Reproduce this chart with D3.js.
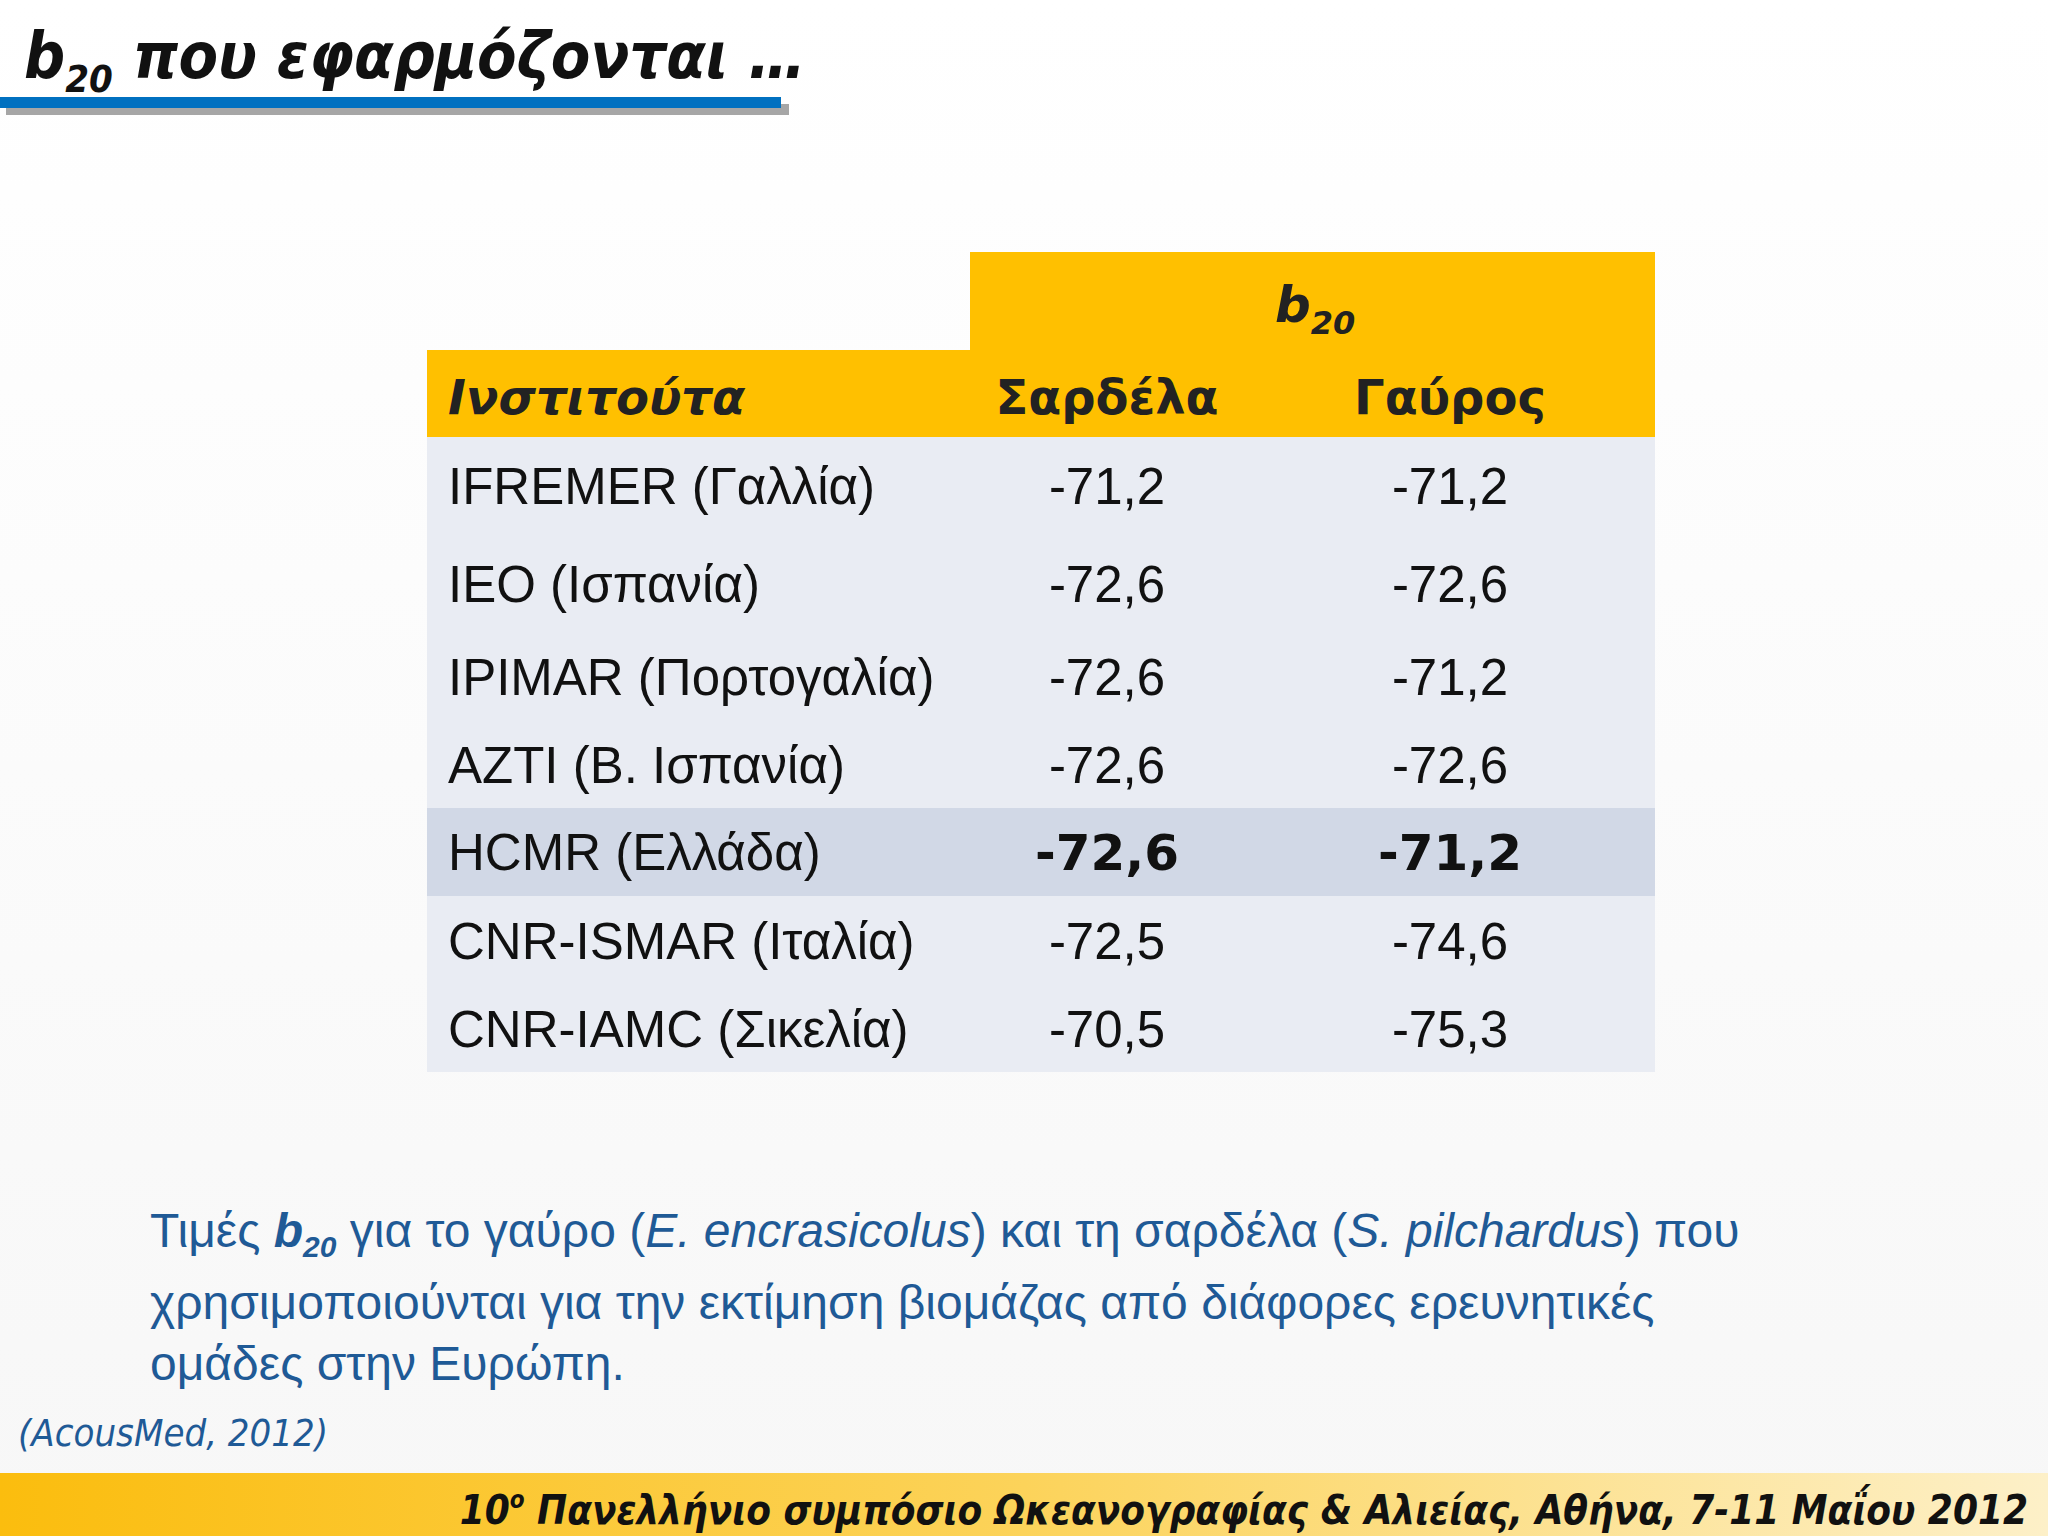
<!DOCTYPE html>
<html><head><meta charset="utf-8">
<script src="https://cdn.jsdelivr.net/npm/d3@7"></script>
<style>body{margin:0;background:#fff}</style></head>
<body><svg id="c" width="2048" height="1536"></svg>
<script>
const institutes = ["IFREMER (Γαλλία)","IEO (Ισπανία)","IPIMAR (Πορτογαλία)","AZTI (Β. Ισπανία)","HCMR (Ελλάδα)","CNR-ISMAR (Ιταλία)","CNR-IAMC (Σικελία)"];
const sardine = ["-71,2","-72,6","-72,6","-72,6","-72,6","-72,5","-70,5"];
const anchovy = ["-71,2","-72,6","-71,2","-72,6","-71,2","-74,6","-75,3"];
const headers = ["Ινστιτούτα","Σαρδέλα","Γαύρος"];
const highlight = "HCMR (Ελλάδα)";

const svg = d3.select("#c");
const defs = svg.append("defs");
const bg = defs.append("linearGradient").attr("id","bg").attr("x1",0).attr("y1",0).attr("x2",0).attr("y2",1);
bg.append("stop").attr("offset",0).attr("stop-color","#ffffff");
bg.append("stop").attr("offset",1).attr("stop-color","#f7f7f7");
const fg = defs.append("linearGradient").attr("id","ft");
fg.append("stop").attr("offset",0).attr("stop-color","#fbbd0e");
fg.append("stop").attr("offset",0.5).attr("stop-color","#fcd35a");
fg.append("stop").attr("offset",1).attr("stop-color","#fdf0c8");
svg.append("rect").attr("width",2048).attr("height",1536).attr("fill","url(#bg)");

// title
svg.append("rect").attr("x",6).attr("y",104).attr("width",783).attr("height",11).attr("fill","#a6a6a6");
svg.append("rect").attr("x",0).attr("y",97).attr("width",781).attr("height",11).attr("fill","#0070c0");
const t = svg.append("text").attr("x",24).attr("y",78).attr("font-family","DejaVu Sans Condensed, DejaVu Sans").attr("font-style","italic").attr("font-weight","bold").attr("font-size",64).attr("fill","#111");
t.append("tspan").text("b");
t.append("tspan").attr("font-size",38).attr("dy",14).text("20");
t.append("tspan").attr("dy",-14).text(" που εφαρμόζονται …");

// table
const x = d3.scaleOrdinal().domain(headers).range([448,1107,1450]);
const bounds = [437,535,633,721,808,896,985,1072];
const y = d3.scaleOrdinal().domain(institutes).range(bounds.slice(0,-1));
svg.append("rect").attr("x",970).attr("y",252).attr("width",685).attr("height",100).attr("fill","#ffc000");
svg.append("rect").attr("x",427).attr("y",350).attr("width",1228).attr("height",87).attr("fill","#ffc000");
const bt = svg.append("text").attr("x",1275).attr("y",322).attr("font-family","DejaVu Sans").attr("font-style","italic").attr("font-weight","bold").attr("font-size",50).attr("fill","#222");
bt.append("tspan").text("b"); bt.append("tspan").attr("font-size",32).attr("dy",12).text("20");
headers.forEach((h,i)=>svg.append("text").attr("x",x(h)).attr("y",414).attr("text-anchor",i?"middle":"start")
  .attr("font-family","DejaVu Sans").attr("font-weight","bold").attr("font-style",i?"normal":"italic").attr("font-size",48).attr("fill","#222").text(h));
institutes.forEach((d,i)=>{
  const y0=y(d), h=bounds[i+1]-y0, hl=d===highlight;
  svg.append("rect").attr("x",427).attr("y",y0).attr("width",1228).attr("height",h).attr("fill",hl?"#d1d8e6":"#e9ecf3");
  const yy=y0+h/2+18;
  svg.append("text").attr("x",x(headers[0])).attr("y",yy).attr("font-family","Liberation Sans, Arial").attr("font-size",51).attr("fill","#111").text(d);
  [[headers[1],sardine[i]],[headers[2],anchovy[i]]].forEach(([c,v])=>
    svg.append("text").attr("x",x(c)).attr("y",yy).attr("text-anchor","middle").attr("font-family",hl?"DejaVu Sans":"Liberation Sans, Arial")
      .attr("font-weight",hl?"bold":"normal").attr("font-size",hl?50:51).attr("fill","#111").text(v));
});

// caption
const cap = svg.append("g").attr("font-family","Liberation Sans, Arial").attr("font-size",48).attr("fill","#1f5a96");
const l1 = cap.append("text").attr("x",150).attr("y",1247);
l1.append("tspan").text("Τιμές ");
l1.append("tspan").attr("font-weight","bold").attr("font-style","italic").text("b");
l1.append("tspan").attr("font-weight","bold").attr("font-style","italic").attr("font-size",30).attr("dy",10).text("20");
l1.append("tspan").attr("dy",-10).text(" για το γαύρο (");
l1.append("tspan").attr("font-style","italic").text("E. encrasicolus");
l1.append("tspan").text(") και τη σαρδέλα (");
l1.append("tspan").attr("font-style","italic").text("S. pilchardus");
l1.append("tspan").text(") που");
cap.append("text").attr("x",150).attr("y",1319).text("χρησιμοποιούνται για την εκτίμηση βιομάζας από διάφορες ερευνητικές");
cap.append("text").attr("x",150).attr("y",1380).text("ομάδες στην Ευρώπη.");
svg.append("text").attr("x",18).attr("y",1446).attr("font-family","DejaVu Sans Condensed").attr("font-style","italic").attr("font-size",38).attr("fill","#1f5a96").text("(AcousMed, 2012)");

// footer
svg.append("rect").attr("x",0).attr("y",1473).attr("width",2048).attr("height",63).attr("fill","url(#ft)");
const ft = svg.append("text").attr("x",2028).attr("y",1524).attr("text-anchor","end").attr("font-family","DejaVu Sans Condensed").attr("font-style","italic").attr("font-weight","bold").attr("font-size",40).attr("fill","#111");
ft.append("tspan").text("10");
ft.append("tspan").attr("font-size",24).attr("dy",-16).text("ο");
ft.append("tspan").attr("dy",16).text(" Πανελλήνιο συμπόσιο Ωκεανογραφίας & Αλιείας, Αθήνα, 7-11 Μαΐου  2012");
</script></body></html>
